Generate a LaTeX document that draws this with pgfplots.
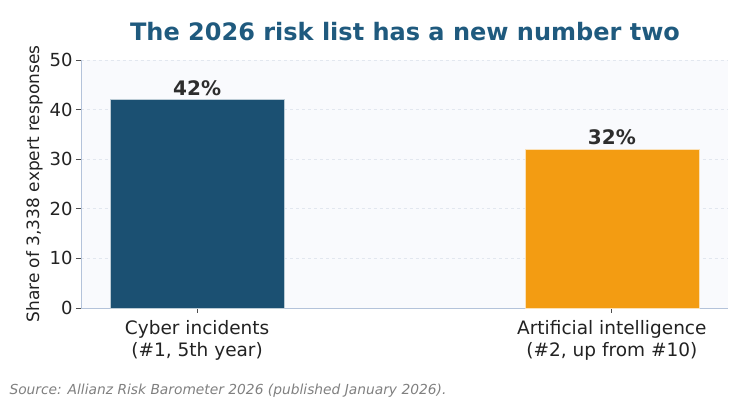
\documentclass[border=0pt]{standalone}
\usepackage{pgfplots}
\pgfplotsset{compat=1.18}
\usepackage{fontspec}
\setmainfont{DejaVu Sans}
\definecolor{navy}{HTML}{1B5072}
\definecolor{amber}{HTML}{F39C12}
\definecolor{titleblue}{HTML}{1F5A7E}
\definecolor{axisbg}{HTML}{F9FAFD}
\definecolor{axline}{HTML}{B4C3DA}
\definecolor{gridc}{HTML}{E2E7EF}
\definecolor{txt}{HTML}{222222}
\begin{document}
\begin{tikzpicture}
\path[use as bounding box] (0,0) rectangle (750bp,400bp);
\begin{axis}[
    at={(81bp,92bp)}, anchor=south west,
    width=647bp, height=248bp, scale only axis,
    ybar, bar width=0.42,
    xmin=-0.28, xmax=1.28,
    ymin=0, ymax=50,
    ytick={0,10,20,30,40,50},
    xtick={0,1},
    xticklabels={{Cyber incidents\\(\#1, 5th year)},{Artificial intelligence\\(\#2, up from \#10)}},
    xticklabel style={align=center, font=\fontsize{18.5bp}{22bp}\selectfont, text=txt, yshift=-4bp},
    yticklabel style={font=\fontsize{18bp}{20bp}\selectfont, text=txt},
    /pgf/number format/assume math mode=true,
    axis x line*=bottom, axis y line*=left,
    axis line style={color=axline, line width=0.9pt},
    tick style={color=txt!80, line width=0.9pt},
    major tick length=5bp, tick align=outside,
    ymajorgrids, grid style={dashed, color=gridc, line width=0.7pt},
    axis background/.style={fill=axisbg},
    ylabel={Share of 3,338 expert responses},
    ylabel style={font=\fontsize{17bp}{20bp}\selectfont, text=txt},
    nodes near coords={\pgfmathprintnumber{\pgfplotspointmeta}\%},
    nodes near coords style={font=\bfseries\fontsize{20bp}{22bp}\selectfont, text=txt!95, /pgf/number format/assume math mode=true, inner sep=4bp},
    clip=false,
]
\addplot[fill=navy, draw=white!70!navy, line width=0.5pt, bar shift=0pt] coordinates {(0,42)};
\addplot[fill=amber, draw=white!70!amber, line width=0.5pt, bar shift=0pt] coordinates {(1,32)};
\end{axis}
\node[font=\bfseries\fontsize{24bp}{28bp}\selectfont, text=titleblue] at (405bp,368bp) {The 2026 risk list has a new number two};
\node[anchor=west, font=\itshape\fontsize{13.8bp}{16bp}\selectfont, text=gray] at (6bp,9bp) {Source: Allianz Risk Barometer 2026 (published January 2026).};
\end{tikzpicture}
\end{document}
